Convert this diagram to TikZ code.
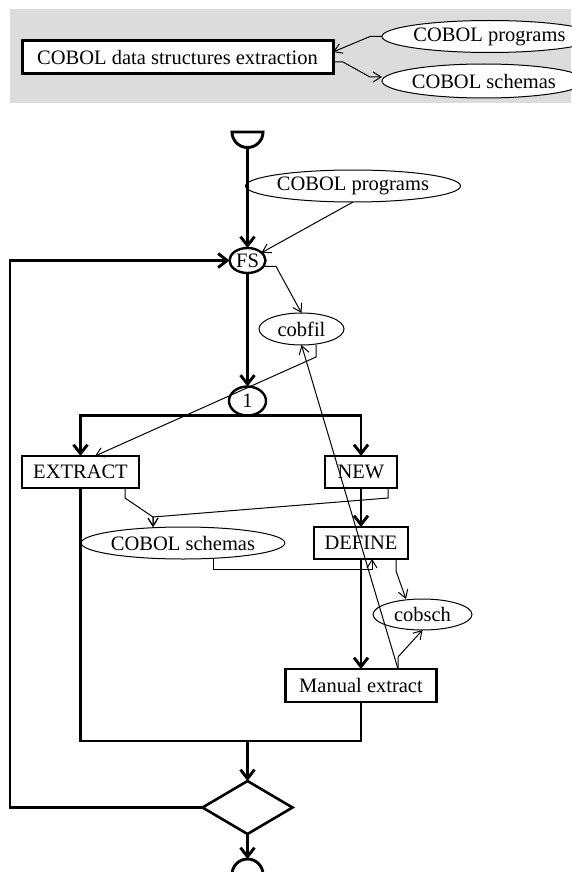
\documentclass[tikz,border=0pt]{standalone}
\usepackage{fontspec}
\setmainfont{Liberation Serif}
\usepackage{tikz}
\usetikzlibrary{arrows.meta,calc,positioning,shapes.geometric}
\definecolor{panel}{RGB}{220,220,220}

\begin{document}
\begin{tikzpicture}[x=1pt, y=1pt, every node/.style={font=\fontsize{20.5}{24}\selectfont, inner sep=0pt, outer sep=0pt},
  proc/.style={draw, line width=2.6pt, fill=white, minimum height=32},
  prod/.style={draw, ellipse, line width=1pt, fill=white, minimum height=32},
  ctrl/.style={draw, ellipse, line width=2.4pt, fill=white},
  flow/.style={line width=2.9pt},
  flowarr/.style={flow, -{Straight Barb[length=9pt,width=14pt]}},
  data/.style={line width=1pt, -{Straight Barb[length=8pt,width=10pt]}}]
  \useasboundingbox (0,0) rectangle (571,-872);
  % summary panel
  \fill[panel] (10,-9) rectangle (571,-103);
  \node[proc, line width=3pt, minimum width=311, minimum height=33] (title) at (177.5,-57.5) {COBOL data structures extraction};
  \node[prod, right=49pt of title.east, yshift=21pt, minimum width=186, minimum height=32] (tprog) {COBOL programs};
  \node[prod, right=49pt of title.east, yshift=-23.5pt, minimum width=181, minimum height=34] (tsch) {COBOL schemas};
  \draw[data] (tprog.west) -- ++(-12,0) -- ([yshift=5.5pt]title.east);
  \draw[data] ([yshift=-4.5pt]title.east) -- ++(10,0) -- ([xshift=-12pt,yshift=4pt]tsch.west) -- ([yshift=4pt]tsch.west);

  % strategy
  \coordinate (start) at (247.5,-147.5);
  \draw[flow] (start) ++(-15.5,15.5) arc[start angle=180, end angle=360, radius=15.5] -- cycle;
  \node[ctrl, below=100.5pt of start, minimum width=36, minimum height=25] (fs) {FS};
  \node[prod, above=46pt of fs.north, xshift=105.5pt, minimum width=188] (prog) {COBOL programs};
  \node[prod, below=40pt of fs.south, xshift=54pt, minimum width=85] (cobfil) {cobfil};
  \node[ctrl, below=113.5pt of fs, minimum width=37, minimum height=29] (one) {1};
  \node[proc, below=40.5pt of one.south, xshift=-167pt, minimum width=117] (extract) {EXTRACT};
  \node[proc, right=186pt of extract, minimum width=72] (new) {NEW};
  \node[prod, below=39pt of extract.south, xshift=102.5pt, minimum width=180] (schemas) {COBOL schemas};
  \node[proc, below=39pt of new, minimum width=94] (define) {DEFINE};
  \node[prod, below=40pt of define.south, xshift=61.5pt, minimum width=99, minimum height=31] (cobsch) {cobsch};
  \node[proc, below=110pt of define, minimum width=151, minimum height=33] (manual) {Manual extract};
  \coordinate[below=39pt of manual.south] (mjoin);
  \coordinate (bjoin) at (one |- mjoin);
  \node[draw, diamond, line width=2.6pt, below=40pt of bjoin, minimum width=90, minimum height=53] (dec) {};
  \coordinate[below=25pt of dec] (stop);
  \draw[flow] (stop) ++(-15.5,-15.5) arc[start angle=180, end angle=0, radius=15.5];

  \draw[flowarr] (start) -- (fs);
  \draw[flowarr] (fs) -- (one);
  \draw[flow, {Straight Barb[length=9pt,width=14pt]}-{Straight Barb[length=9pt,width=14pt]}] (extract.north) |- (one.south) -| (new.north);
  \draw[flowarr] (new) -- (define);
  \draw[flowarr] (define) -- (manual);
  \draw[flow] (extract.south) |- (mjoin) -- (manual.south);
  \draw[flowarr] (bjoin) -- (dec);
  \draw[flowarr] (dec.west) -- ++(-192.5,0) |- (fs);
  \draw[flowarr] (dec) -- (stop);

  \draw[data] (prog.south) -- (fs);
  \draw[data] (fs.-20) -- ++(12.5,0) -- (cobfil.north);
  \draw[data] ([xshift=14.5pt]cobfil.south) -- ++(0,-12) -- ([xshift=14.5pt]extract.north);
  \draw[data] ([xshift=44.5pt]extract.south) -- ++(0,-10) -- ([xshift=-30pt,yshift=10pt]schemas.north) -- ([xshift=-30pt]schemas.north);
  \draw[data] ([xshift=27pt]new.south) -- ++(0,-10) -- ([xshift=-30pt,yshift=10pt]schemas.north) -- ([xshift=-30pt]schemas.north);
  \draw[data] ([xshift=30pt]schemas.south) -- ++(0,-10) -| ([xshift=11pt]define.south);
  \draw[data] ([xshift=35pt]define.south) -- ++(0,-12) -- ([xshift=-16.5pt]cobsch.north);
  \draw[data] ([xshift=37pt]manual.north) -- ++(0,12) -- (cobsch.south);
  \draw[data, {Straight Barb[length=8pt,width=10pt]}-] (cobfil.south) -- ([xshift=37pt]manual.north);
\end{tikzpicture}
\end{document}
